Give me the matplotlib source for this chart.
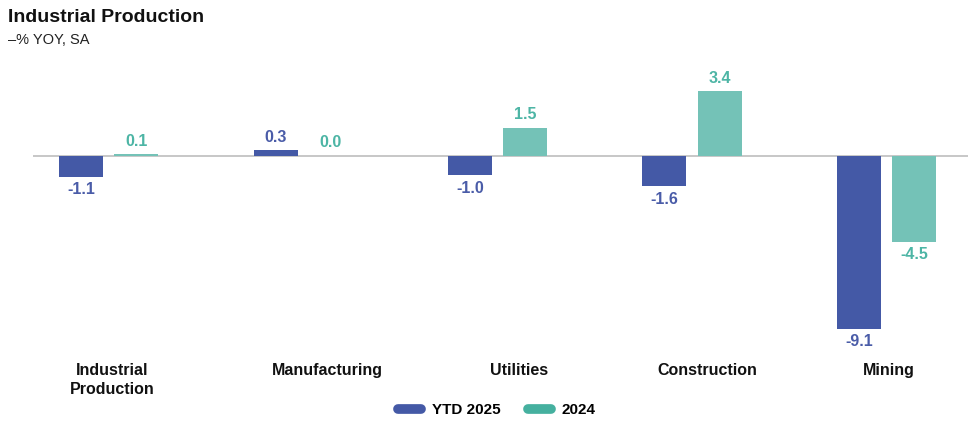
import numpy as np
import matplotlib.pyplot as plt
from matplotlib.lines import Line2D

categories = ['Industrial\nProduction', 'Manufacturing', 'Utilities', 'Construction', 'Mining']
ytd_2025 = [-1.1, 0.3, -1.0, -1.6, -9.1]
yr_2024 = [0.1, 0.0, 1.5, 3.4, -4.5]
series_names = ['YTD 2025', '2024']

blue = '#4459A6'
teal = '#74C2B7'
blue_txt = '#4A5CA8'
teal_txt = '#4DB5A5'

plt.rcParams['font.family'] = ['Liberation Sans', 'DejaVu Sans']

fig = plt.figure(figsize=(9.75, 4.32), dpi=100)
ax = fig.add_axes([33 / 975, 1 - 346 / 432, 935 / 975, 285 / 432])

x = np.arange(len(categories))
w = 0.226
off = 0.142
ax.bar(x - off, ytd_2025, w, color=blue, zorder=2)
ax.bar(x + off, yr_2024, w, color=teal, zorder=2)
ax.axhline(0, color='#BDBDBD', lw=1.2, zorder=1)

# value labels
for xs, vals, c in [(x - off, ytd_2025, blue_txt), (x + off, yr_2024, teal_txt)]:
    for xi, v in zip(xs, vals):
        if v >= 0:
            ax.annotate(f'{v:.1f}', (xi, v), xytext=(0, 4), textcoords='offset points',
                        ha='center', va='bottom', color=c, fontsize=11.5, fontweight='bold')
        else:
            ax.annotate(f'{v:.1f}', (xi, v), xytext=(0, -4), textcoords='offset points',
                        ha='center', va='top', color=c, fontsize=11.5, fontweight='bold')

# category labels sit slightly right of the bar pairs in the original
label_shift = [0.018, 0.123, 0.113, 0.077, 0.015]
ax.set_xlim(-0.39, 4.42)
ax.set_ylim(-10, 5)
ax.set_xticks(x + np.array(label_shift))
ax.set_xticklabels(categories, fontsize=11.5, fontweight='bold', color='#111111',
                   linespacing=1.4)
ax.tick_params(axis='x', length=0, pad=12)
ax.set_yticks([])
for s in ax.spines.values():
    s.set_visible(False)
ax.patch.set_alpha(0)

fig.text(8 / 975, 1 - 17 / 432, 'Industrial Production', fontsize=14, fontweight='bold',
         va='center', ha='left', color='#111111')
fig.text(8 / 975, 1 - 40 / 432, '\u2013% YOY, SA', fontsize=10.5, va='center', ha='left',
         color='#222222')

handles = [Line2D([0], [0], color=blue, lw=7, solid_capstyle='round'),
           Line2D([0], [0], color='#45B09F', lw=7, solid_capstyle='round')]
leg = fig.legend(handles, series_names, loc='center', bbox_to_anchor=(497 / 975, 1 - 410 / 432),
                 ncol=2, frameon=False, handlelength=1.5, handletextpad=0.7, columnspacing=1.8,
                 prop={'size': 11, 'weight': 'bold'})

fig.savefig('out.png', dpi=100)
